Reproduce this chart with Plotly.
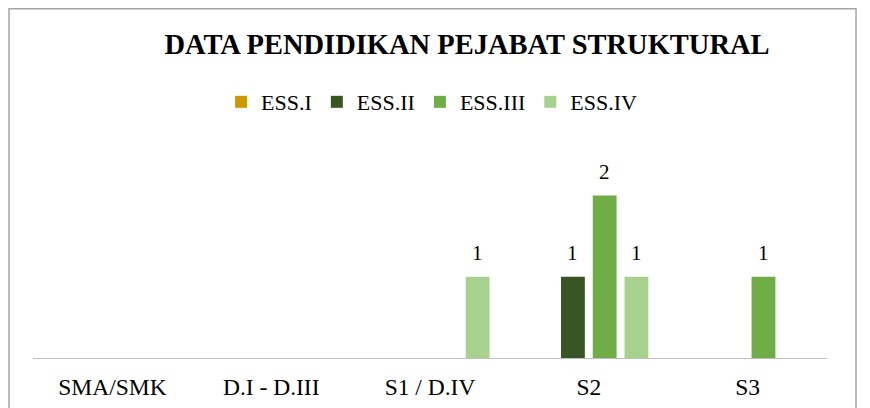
import plotly.graph_objects as go

categories = ["SMA/SMK", "D.I - D.III", "S1 / D.IV", "S2", "S3"]
ess_i = [None, None, None, None, None]
ess_ii = [None, None, None, 1, None]
ess_iii = [None, None, None, 2, 1]
ess_iv = [None, None, 1, 1, None]

series = [
    ("ESS.I", ess_i, "#CC9900"),
    ("ESS.II", ess_ii, "#375623"),
    ("ESS.III", ess_iii, "#70AD47"),
    ("ESS.IV", ess_iv, "#A9D18E"),
]

FONT = "Liberation Serif, Times New Roman, serif"

# layout geometry (the page puts the figure at an 8px body offset)
W, H = 870, 408
ML, MR, MT, MB = 25, 51, 147, 58
BARGAP, GROUPGAP = 0.2, 0.25
plot_w = W - ML - MR
plot_h = H - MT - MB
slot = plot_w / len(categories) * (1 - BARGAP) / len(series)

fig = go.Figure()
annotations = []
for i, (name, vals, color) in enumerate(series):
    fig.add_trace(go.Bar(
        x=categories, y=vals, name=name,
        marker=dict(color=color, line=dict(width=0)),
    ))
    for c, v in zip(categories, vals):
        if v is None:
            continue
        annotations.append(dict(
            x=c, y=v, xref="x", yref="y", text=str(v), showarrow=False,
            xanchor="center", yanchor="bottom",
            xshift=(i - (len(series) - 1) / 2) * slot, yshift=10,
            font=dict(family=FONT, size=21, color="#000000"),
        ))

fig.update_layout(
    width=W, height=H,
    margin=dict(l=ML, r=MR, t=MT, b=MB),
    paper_bgcolor="white", plot_bgcolor="white",
    font=dict(family=FONT, color="#000000"),
    barmode="group", bargap=BARGAP, bargroupgap=GROUPGAP,
    title=dict(text="<b>DATA PENDIDIKAN PEJABAT STRUKTURAL</b>",
               font=dict(family=FONT, size=28.5, color="#000000"),
               x=0.5276, xanchor="center", y=0.9118, yanchor="middle"),
    legend=dict(orientation="h", x=0.502, xanchor="center", y=1.261, yanchor="middle",
                font=dict(family=FONT, size=22, color="#000000"),
                traceorder="normal"),
    showlegend=True,
    xaxis=dict(showline=True, linecolor="#BFBFBF", linewidth=1, ticks="",
               tickfont=dict(family=FONT, size=23.5, color="#000000"),
               ticklabelstandoff=8,
               showgrid=False, zeroline=False),
    yaxis=dict(range=[0, 2.5], visible=False, showgrid=False, zeroline=False),
    annotations=annotations,
    shapes=[dict(type="rect", xref="paper", yref="paper",
                 x0=(1 - ML) / plot_w, x1=(848 - ML) / plot_w,
                 y0=-(MB + 20) / plot_h, y1=1 + (MT - 0.75) / plot_h,
                 line=dict(color="#A6A6A6", width=1.5), layer="below")],
)

fig.write_html("out.html")
